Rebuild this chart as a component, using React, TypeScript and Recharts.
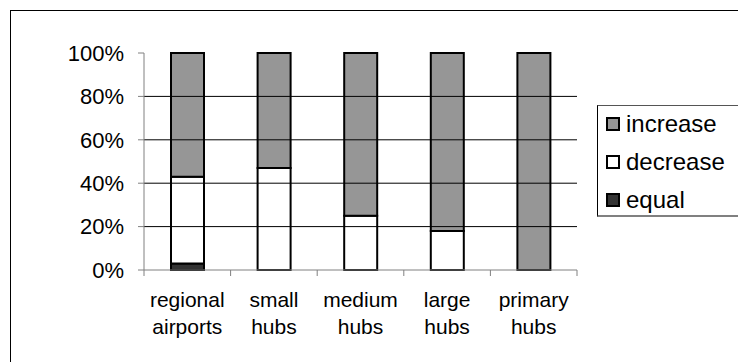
import {
  BarChart,
  Bar,
  XAxis,
  YAxis,
  ReferenceLine,
} from "recharts";

// airport categories along the x axis
const categories = [
  "regional airports",
  "small hubs",
  "medium hubs",
  "large hubs",
  "primary hubs",
];

// share of airports per category (%)
const increase = [57, 53, 75, 82, 100];
const decrease = [40, 47, 25, 18, 0];
const equal = [3, 0, 0, 0, 0];

const yTicks = [0, 20, 40, 60, 80, 100];
const gridValues = [20, 40, 60, 80];

// stacked from the bottom up: equal, decrease, increase
const SERIES = [
  { key: "equal", values: equal, color: "#333333" },
  { key: "decrease", values: decrease, color: "#ffffff" },
  { key: "increase", values: increase, color: "#969696" },
];

const FONT = "'Liberation Sans', Arial, sans-serif";
const WIDTH = 738;
const HEIGHT = 362;
const PLOT_LEFT = 144;
const PLOT_RIGHT = 577;
const BAND = (PLOT_RIGHT - PLOT_LEFT) / categories.length;

const data = categories.map((name, i) => {
  const row: any = { name };
  SERIES.forEach((s) => {
    row[s.key] = s.values[i];
  });
  return row;
});

// two-line category label plus tick marks on the band edges
function CategoryTick({ x, y, payload, index }: any) {
  const words = String(payload.value).split(" ");
  const left = x - BAND / 2;
  const right = x + BAND / 2;
  return (
    <g>
      <line x1={left} x2={left} y1={y} y2={y + 6} stroke="#808080" strokeWidth={1} />
      {index === categories.length - 1 && (
        <line x1={right} x2={right} y1={y} y2={y + 6} stroke="#808080" strokeWidth={1} />
      )}
      <text x={x} y={y} textAnchor="middle" fontSize={21} fontFamily={FONT} fill="#000">
        <tspan x={x} dy={37}>{words[0]}</tspan>
        <tspan x={x} dy={27}>{words.slice(1).join(" ")}</tspan>
      </text>
    </g>
  );
}

export default function App() {
  // legend lists the top of the stack first
  const legendItems = [...SERIES].reverse();

  return (
    <div
      style={{
        position: "absolute",
        left: 0,
        top: 0,
        width: WIDTH,
        height: HEIGHT,
        background: "#fff",
        overflow: "hidden",
        fontFamily: FONT,
      }}
    >
      <div
        style={{
          position: "absolute",
          left: 10,
          top: 10,
          right: 0,
          bottom: 0,
          borderTop: "1px solid #000",
          borderLeft: "1px solid #000",
        }}
      />
      <BarChart
        width={WIDTH}
        height={HEIGHT}
        data={data}
        margin={{ top: 53, right: WIDTH - PLOT_RIGHT, bottom: 32, left: 0 }}
        barSize={33}
        style={{ position: "absolute", left: 0, top: 0 }}
      >
        {gridValues.map((v) => (
          <ReferenceLine key={v} y={v} stroke="#000" strokeWidth={1} />
        ))}
        <XAxis
          dataKey="name"
          height={60}
          interval={0}
          tickLine={false}
          tickSize={0}
          tickMargin={0}
          axisLine={{ stroke: "#808080", strokeWidth: 1 }}
          tick={<CategoryTick />}
        />
        <YAxis
          width={PLOT_LEFT}
          domain={[0, 100]}
          ticks={yTicks}
          interval={0}
          tickFormatter={(v) => `${v}%`}
          tickSize={6}
          tickMargin={14}
          axisLine={{ stroke: "#808080", strokeWidth: 1 }}
          tickLine={{ stroke: "#808080", strokeWidth: 1 }}
          tick={{ fill: "#000", fontSize: 22, fontFamily: FONT }}
        />
        {SERIES.map((s) => (
          <Bar
            key={s.key}
            dataKey={s.key}
            stackId="share"
            fill={s.color}
            stroke="#000"
            strokeWidth={2}
            isAnimationActive={false}
          />
        ))}
      </BarChart>
      <div
        style={{
          position: "absolute",
          left: 597,
          top: 105,
          width: 200,
          height: 109,
          borderTop: "1px solid #555",
          borderLeft: "1px solid #000",
          borderBottom: "2px solid #808080",
          background: "#fff",
        }}
      >
        {legendItems.map((s, i) => (
          <div
            key={s.key}
            style={{
              position: "absolute",
              left: 8,
              top: 3 + i * 38,
              height: 30,
              display: "flex",
              alignItems: "center",
              fontSize: 24,
              color: "#000",
              whiteSpace: "nowrap",
            }}
          >
            <span
              style={{
                display: "inline-block",
                width: 10,
                height: 10,
                border: "2px solid #000",
                background: s.color,
                marginRight: 6,
              }}
            />
            {s.key}
          </div>
        ))}
      </div>
    </div>
  );
}
